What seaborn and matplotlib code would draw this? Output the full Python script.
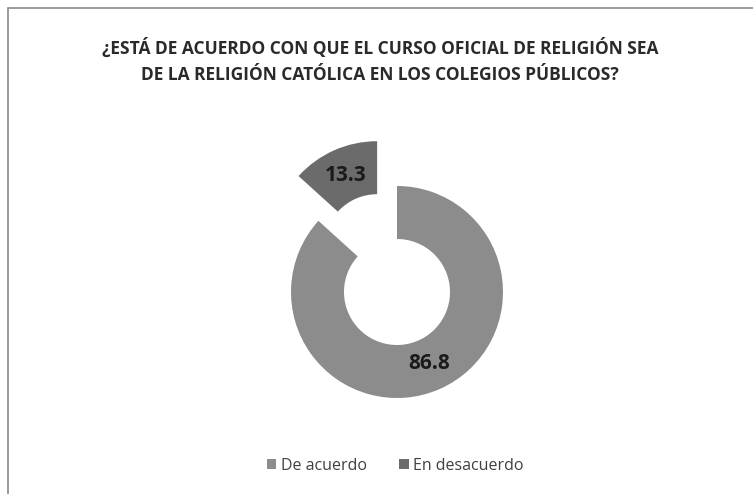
import matplotlib
matplotlib.use("Agg")
import matplotlib.pyplot as plt
import seaborn as sns
from matplotlib.patches import Rectangle

sns.set_theme(style="white")
plt.rcParams['font.family'] = ['Open Sans', 'DejaVu Sans']

categories = ["De acuerdo", "En desacuerdo"]
values = [86.8, 13.3]
colors = ["#8c8c8c", "#6b6b6b"]
title = "¿ESTÁ DE ACUERDO CON QUE EL CURSO OFICIAL DE RELIGIÓN SEA\nDE LA RELIGIÓN CATÓLICA EN LOS COLEGIOS PÚBLICOS?"

W, H = 753, 494
fig = plt.figure(figsize=(W / 100, H / 100), dpi=100)
fig.patch.set_facecolor("white")

# chart border (only top/left visible in reference)
fig.add_artist(Rectangle((8 / W, -0.1), 1.2, (H - 8) / H + 0.1,
                         transform=fig.transFigure, fill=False,
                         edgecolor="#8a8a8a", linewidth=1.2))

ax = fig.add_axes([0, 0, 1, 1])
ax.set_xlim(0, W)
ax.set_ylim(0, H)
ax.set_aspect("equal")
ax.axis("off")

total = sum(values)
wedges, texts, autotexts = ax.pie(
    values,
    colors=colors,
    startangle=90,
    counterclock=False,
    center=(397, H - 292),
    radius=106,
    explode=[0, 49],
    wedgeprops=dict(width=53, edgecolor="none"),
    autopct=lambda p: f"{p * total / 100:.1f}",
    pctdistance=0.74,
    textprops=dict(fontsize=15, color="#1a1a1a", fontweight="bold"),
)
ax.set_xlim(0, W)
ax.set_ylim(0, H)

fig.text(0.505, 1 - 61 / H, title, ha="center", va="center", fontsize=12.5,
         fontweight="bold", color="#2a2a2a", linespacing=1.6)

ax.legend(wedges, categories, loc="center", bbox_to_anchor=(0.525, 1 - 466 / H),
          bbox_transform=fig.transFigure, ncol=2, frameon=False, fontsize=11.5,
          handlelength=0.6, handleheight=0.6, handletextpad=0.3, columnspacing=2.0,
          labelcolor="#404040")

fig.savefig("out.png", dpi=100, facecolor="white")
